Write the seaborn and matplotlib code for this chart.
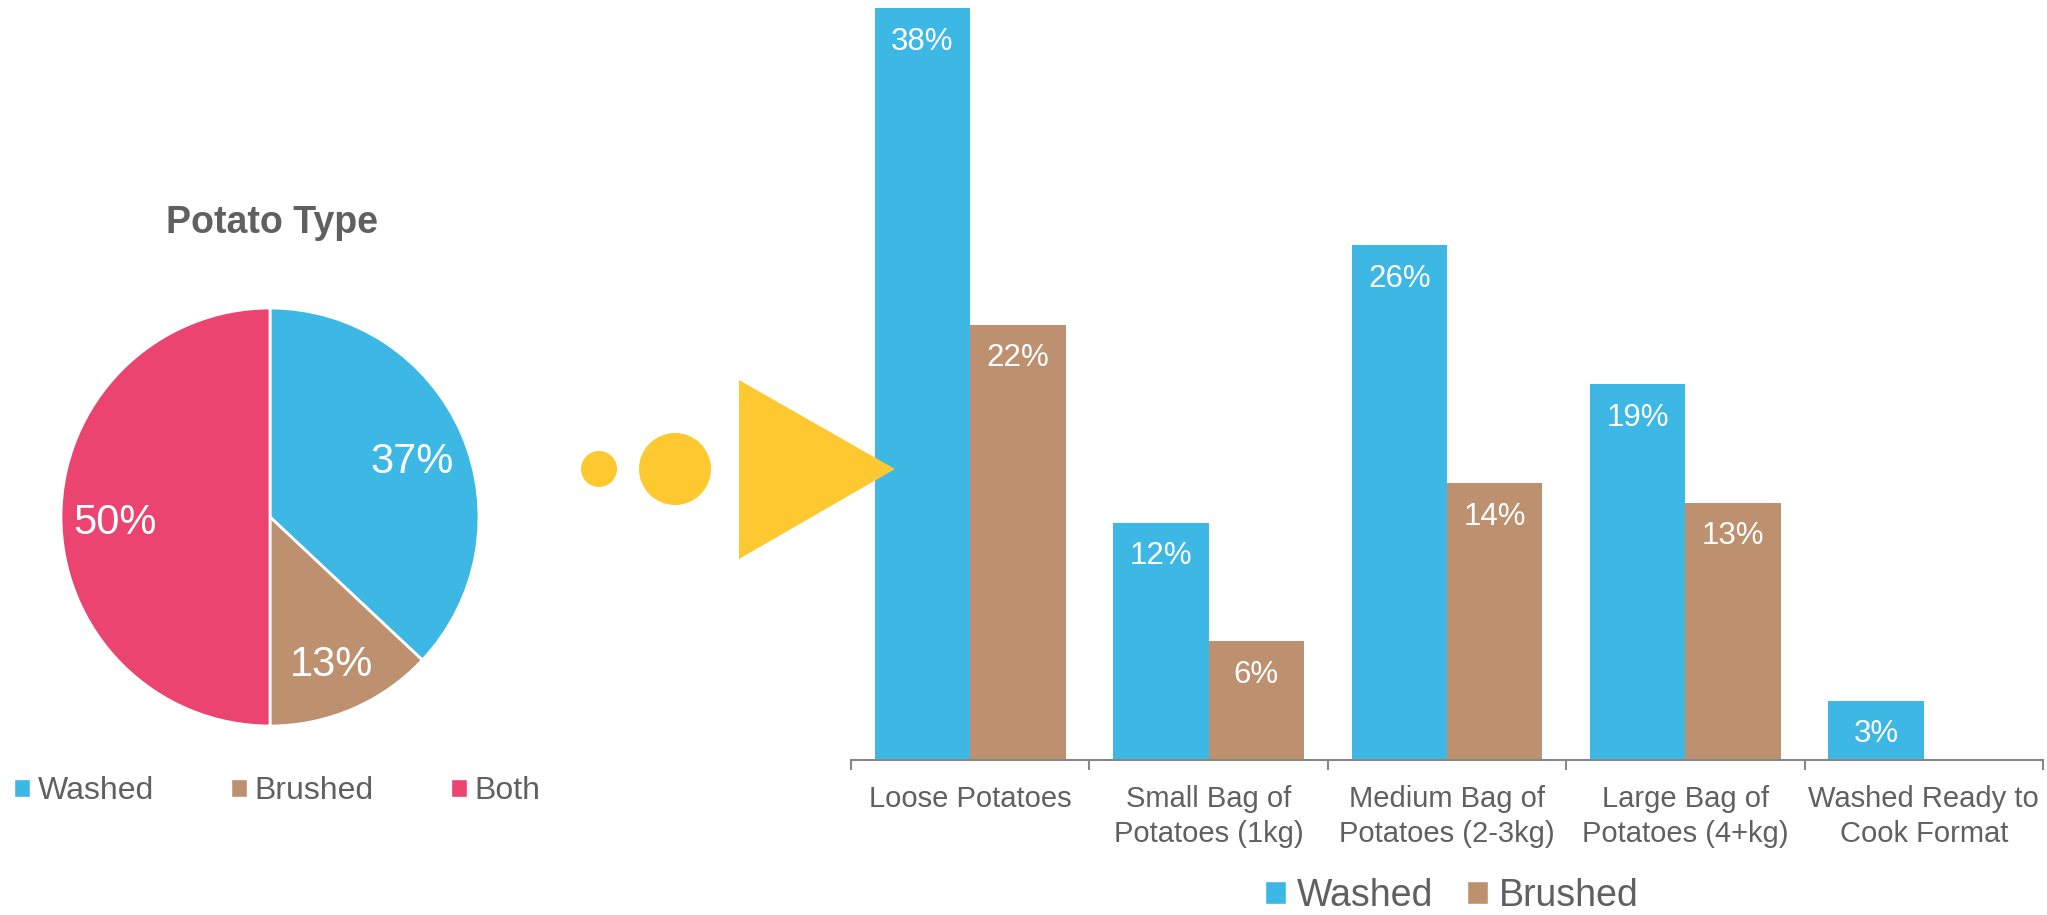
import matplotlib
matplotlib.use('Agg')
import matplotlib.pyplot as plt
from matplotlib.patches import Patch, Circle, Polygon
import seaborn as sns
import pandas as pd

# pie data
pie_labels = ['Washed', 'Brushed', 'Both']
pie_values = [37, 13, 50]

# bar data
formats = ['Loose Potatoes', 'Small Bag of\nPotatoes (1kg)', 'Medium Bag of\nPotatoes (2-3kg)',
           'Large Bag of\nPotatoes (4+kg)', 'Washed Ready to\nCook Format']
washed = [38, 12, 26, 19, 3]
brushed = [22, 6, 14, 13, 0]

blue = '#3db8e5'
tan = '#bd9170'
pink = '#ec4470'
yellow = '#fdc830'
grey = '#606060'
axis_grey = '#878787'

sns.set_theme(style='white')
plt.rcParams['font.family'] = ['Liberation Sans', 'DejaVu Sans']

W, H = 2047, 915
fig = plt.figure(figsize=(W / 100, H / 100), dpi=100)

# pie chart (left)
cx, cy, r = 270, 517, 209
lim = 1.03
ax_pie = fig.add_axes([(cx - r * lim) / W, 1 - (cy + r * lim) / H, 2 * r * lim / W, 2 * r * lim / H])
wedges, texts, autotexts = ax_pie.pie(
    pie_values, colors=[blue, tan, pink], startangle=90, counterclock=False,
    autopct='%.0f%%', pctdistance=0.74,
    wedgeprops=dict(edgecolor='white', linewidth=2),
    textprops=dict(color='white', fontsize=30))
# nudge labels slightly down, like the original
for t in autotexts:
    x, y = t.get_position()
    t.set_position((x, y - 0.03))
ax_pie.set_xlim(-lim, lim)
ax_pie.set_ylim(-lim, lim)
ax_pie.set_aspect('equal')
ax_pie.axis('off')

fig.text(272 / W, 1 - 223 / H, 'Potato Type', ha='center', va='center',
         fontsize=27, fontweight='bold', color=grey)

fig.legend(handles=[Patch(facecolor=c, label=l) for c, l in zip([blue, tan, pink], pie_labels)],
           loc='center left', bbox_to_anchor=(14 / W, 1 - 791 / H), ncol=3, frameon=False,
           fontsize=23, handlelength=0.5, handleheight=0.5, handletextpad=0.25,
           columnspacing=2.4, borderpad=0, borderaxespad=0, labelcolor=grey)

# bar chart (right)
df = pd.DataFrame({
    'format': formats * 2,
    'share': washed + brushed,
    'type': ['Washed'] * len(formats) + ['Brushed'] * len(formats),
})
ax_bar = fig.add_axes([851 / W, 1 - 760 / H, (2043 - 851) / W, (760 - 8) / H])
sns.barplot(data=df, x='format', y='share', hue='type', palette=[blue, tan],
            saturation=1, width=0.8, errorbar=None, legend=False, linewidth=0, ax=ax_bar)
ax_bar.set_ylim(0, 38)
ax_bar.set_xlim(-0.5, len(formats) - 0.5)

for cont in ax_bar.containers:
    for bar in cont:
        h = bar.get_height()
        if h > 0:
            ax_bar.annotate(f'{h:.0f}%', (bar.get_x() + bar.get_width() / 2, h),
                            xytext=(0, -30), textcoords='offset points',
                            ha='center', va='baseline', color='white', fontsize=22.5)

ax_bar.set_xlabel('')
ax_bar.set_ylabel('')
ax_bar.set_yticks([])
ax_bar.set_xticks(range(len(formats)))
ax_bar.set_xticklabels(formats)
for lbl in ax_bar.get_xticklabels():
    lbl.set_linespacing(1.3)
ax_bar.set_xticks([i - 0.5 for i in range(len(formats) + 1)], minor=True)
ax_bar.tick_params(axis='x', which='major', length=0, pad=18, labelsize=21, labelcolor=grey)
ax_bar.tick_params(axis='x', which='minor', length=7.5, width=1.5, color=axis_grey, direction='out', bottom=True)
for side in ['top', 'right', 'left']:
    ax_bar.spines[side].set_visible(False)
ax_bar.spines['bottom'].set_color(axis_grey)
ax_bar.spines['bottom'].set_linewidth(1.5)
ax_bar.patch.set_alpha(0)

fig.legend(handles=[Patch(facecolor=blue, label='Washed'), Patch(facecolor=tan, label='Brushed')],
           loc='lower center', bbox_to_anchor=(1452 / W, 1 / H), ncol=2, frameon=False,
           fontsize=27, handlelength=0.55, handleheight=0.55, handletextpad=0.3,
           columnspacing=0.9, borderpad=0, borderaxespad=0, labelcolor=grey)

# yellow arrow decoration between the charts
ax_deco = fig.add_axes([0, 0, 1, 1], zorder=5)
ax_deco.set_xlim(0, W)
ax_deco.set_ylim(H, 0)
ax_deco.axis('off')
ax_deco.add_patch(Circle((599, 469), 18, color=yellow, lw=0))
ax_deco.add_patch(Circle((675, 469), 36, color=yellow, lw=0))
ax_deco.add_patch(Polygon([(739, 380), (739, 559), (895, 469)], closed=True, color=yellow, lw=0))

fig.savefig('out.png', dpi=100)
